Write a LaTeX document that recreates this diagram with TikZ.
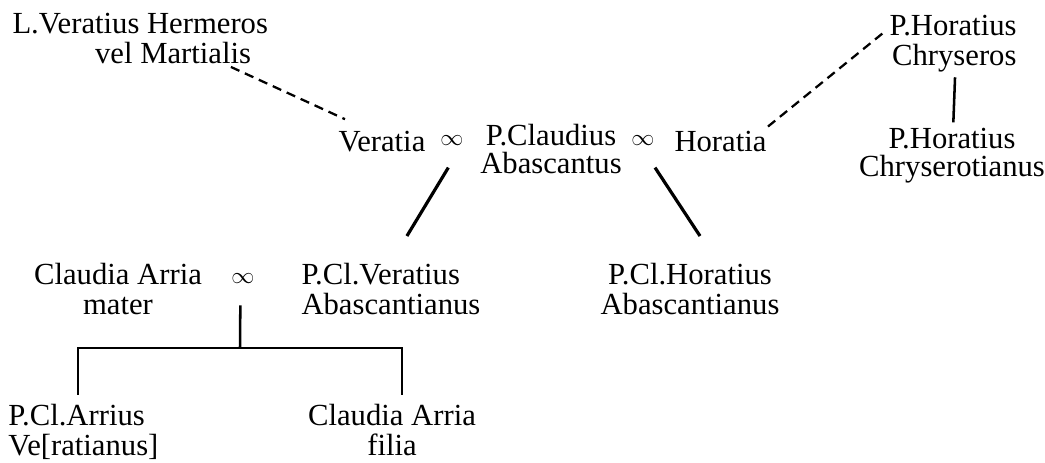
\documentclass[tikz,border=0pt]{standalone}
\usepackage{fontspec}
\setmainfont{Liberation Serif}

\tikzset{every picture/.style={line width=0.75pt}}
\tikzset{pers/.style={font=\fontsize{23}{22}\selectfont, inner sep=0.75pt},
  tight/.style={font=\fontsize{23}{21}\selectfont},
  marr/.style={font=\fontsize{16}{16}\selectfont, inner sep=0.75pt},
  desc/.style={line width=2.4pt},
  kin/.style={line width=1.9pt},
  uncertain/.style={line width=1.7pt, dash pattern=on 7pt off 4.5pt}}

\begin{document}
\begin{tikzpicture}[x=0.75pt,y=0.75pt,yscale=-1,xscale=1]
\useasboundingbox (0,0) rectangle (1045,462);

% Text Node
\node (lvh) at (11,12) [pers, anchor=north west, align=left] {L.Veratius Hermeros\\\hspace*{62pt}vel Martialis};
% Text Node
\node (ver) at (337,151) [pers, anchor=base west] {Veratia};
% Text Node
\node (inf1) at (452,141) [marr] {$\infty$};
% Text Node
\node (pca) at (551,123) [pers, tight, anchor=north, align=center] {P.Claudius\\Abascantus};
% Text Node
\node (inf2) at (643,141) [marr] {$\infty$};
% Text Node
\node (hor) at (673,151) [pers, anchor=base west] {Horatia};
% Text Node
\node (phct) at (952,127) [pers, tight, anchor=north, align=center] {P.Horatius\\Chryserotianus};
% Text Node
\node (phc) at (1018,14) [pers, anchor=north east, align=right] {P.Horatius\\Chryseros};
% Text Node
\node (caa) at (118,262) [pers, anchor=north, align=center] {Claudia Arria\\mater};
% Text Node
\node (inf3) at (243,279) [marr] {$\infty$};
% Text Node
\node (pcv) at (300,262) [pers, anchor=north west, align=left] {P.Cl.Veratius\\Abascantianus};
% Text Node
\node (pch) at (690,262) [pers, anchor=north, align=center] {P.Cl.Horatius\\Abascantianus};
% Text Node
\node (pcar) at (7,403) [pers, anchor=north west, align=left] {P.Cl.Arrius\\Ve[ratianus]};
% Text Node
\node (caf) at (392,403) [pers, anchor=north, align=center] {Claudia Arria\\filia};

%Dashed Lines
\draw [uncertain] ([xshift=68pt,yshift=1.5pt]lvh.south) -- ([xshift=6pt,yshift=-7.5pt]ver.north west);
\draw [uncertain] ([yshift=-2pt]hor.north east) -- ([xshift=-1pt,yshift=12pt]phc.north west);
%Straight Lines
\draw [kin] ([xshift=1.5pt,yshift=3pt]phc.south) -- ([xshift=1pt,yshift=-3.5pt]phct.north);
\draw [desc] ([xshift=-77pt,yshift=-6pt]pca.south) -- ([xshift=12pt,yshift=-19.5pt]pcv.north);
\draw [desc] ([xshift=78pt,yshift=-6pt]pca.south) -- ([xshift=7.5pt,yshift=-19.5pt]pch.north);

%Children
\coordinate (fork) at (240,348);
\draw [kin] ([xshift=-2pt,yshift=15pt]inf3.south) -- (fork);
\draw [kin] (fork) -| ([xshift=-4pt,yshift=-6pt]pcar.north);
\draw [kin] (fork) -| ([xshift=7.5pt,yshift=-6pt]caf.north);

\end{tikzpicture}
\end{document}
